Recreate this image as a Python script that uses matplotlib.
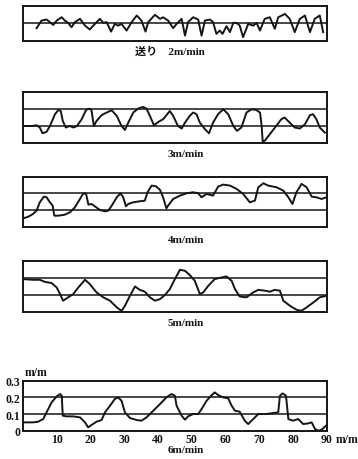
import numpy as np
import matplotlib.pyplot as plt

# 送り速度ごとの表面うねり記録 (横軸 m/m, 縦軸 m/m)
feed_labels = ['送り　2m/min', '3m/min', '4m/min', '5m/min', '6m/min']

x_2 = [4.05, 5.5, 7.0, 8.0, 9.0, 10.0, 11.5, 12.4, 13.4, 14.4, 15.4, 16.9, 18.4, 19.8,
       21.3, 22.8, 23.8, 24.8, 26.1, 27.2, 28.2, 29.2, 30.7, 32.2, 33.7, 35.1, 36.3,
       37.1, 39.1, 40.6, 41.5, 43.0, 44.5, 45.5, 47.0, 48.0, 48.9, 50.4, 51.9, 52.9,
       53.9, 55.4, 56.3, 57.3, 58.3, 59.1, 60.3, 61.3, 62.3, 63.3, 64.2, 65.2, 66.7,
       68.2, 69.2, 70.2, 71.6, 73.1, 74.6, 75.6, 77.6, 79.0, 80.5, 82.0, 83.5, 85.0,
       86.4, 87.9, 88.9]
y_2 = [0.073, 0.116, 0.122, 0.107, 0.091, 0.116, 0.135, 0.116, 0.103, 0.078, 0.107,
       0.126, 0.087, 0.065, 0.097, 0.126, 0.103, 0.107, 0.053, 0.097, 0.087, 0.097,
       0.059, 0.107, 0.145, 0.116, 0.053, 0.107, 0.149, 0.126, 0.135, 0.116, 0.073,
       0.097, 0.126, 0.030, 0.107, 0.135, 0.122, 0.030, 0.116, 0.122, 0.107, 0.040,
       0.059, 0.040, 0.084, 0.050, 0.103, 0.103, 0.087, 0.021, 0.097, 0.087, 0.103,
       0.059, 0.126, 0.135, 0.069, 0.135, 0.154, 0.126, 0.050, 0.126, 0.145, 0.050,
       0.126, 0.145, 0.050]

x_3 = [0.5, 2.6, 4.05, 5.0, 5.8, 7.0, 8.0, 9.5, 10.5, 11.2, 11.8, 12.7, 13.8, 15.0,
       16.0, 17.4, 18.7, 19.6, 20.3, 21.0, 21.8, 23.3, 24.8, 26.3, 27.8, 29.2, 30.2,
       31.2, 32.7, 34.1, 35.6, 36.6, 37.6, 38.8, 40.1, 41.5, 42.5, 43.5, 44.5, 45.9,
       47.0, 48.0, 49.4, 50.4, 51.4, 52.4, 53.9, 55.1, 56.3, 57.8, 59.3, 60.8, 62.3,
       63.4, 64.7, 66.2, 67.7, 69.1, 70.2, 70.7, 71.0, 71.6, 73.1, 75.0, 76.5, 77.5,
       79.0, 80.5, 82.0, 83.5, 85.0, 85.9, 86.9, 87.9, 89.4]
y_3 = [0.098, 0.098, 0.102, 0.089, 0.055, 0.063, 0.098, 0.168, 0.193, 0.187, 0.128,
       0.089, 0.098, 0.089, 0.098, 0.138, 0.193, 0.201, 0.193, 0.098, 0.128, 0.162,
       0.178, 0.191, 0.158, 0.098, 0.075, 0.118, 0.178, 0.201, 0.211, 0.201, 0.158,
       0.102, 0.122, 0.138, 0.162, 0.187, 0.158, 0.098, 0.083, 0.118, 0.158, 0.178,
       0.168, 0.118, 0.079, 0.055, 0.118, 0.168, 0.197, 0.168, 0.098, 0.069, 0.089,
       0.178, 0.197, 0.193, 0.178, 0.098, 0.004, 0.010, 0.049, 0.098, 0.138, 0.148,
       0.118, 0.089, 0.083, 0.108, 0.162, 0.168, 0.138, 0.089, 0.059]

x_4 = [0.1, 1.6, 3.0, 4.05, 5.0, 6.2, 7.0, 8.0, 8.8, 9.3, 10.5, 12.4, 13.9, 15.4,
       16.9, 17.9, 18.7, 19.4, 20.3, 21.3, 22.8, 24.3, 25.3, 26.3, 27.8, 28.9, 29.7,
       30.5, 31.2, 32.7, 34.6, 36.1, 36.9, 38.1, 39.4, 40.6, 41.5, 42.5, 43.0, 44.5,
       46.5, 48.5, 50.4, 51.9, 52.9, 54.4, 56.3, 57.8, 59.3, 61.3, 63.3, 65.2, 67.2,
       68.7, 69.7, 71.2, 72.6, 75.1, 77.1, 78.6, 79.8, 81.0, 82.5, 84.0, 85.5, 86.9,
       88.4, 89.9]
y_4 = [0.050, 0.060, 0.076, 0.096, 0.146, 0.180, 0.176, 0.146, 0.126, 0.066, 0.066,
       0.072, 0.086, 0.116, 0.166, 0.200, 0.196, 0.132, 0.136, 0.122, 0.100, 0.092,
       0.096, 0.126, 0.176, 0.200, 0.176, 0.122, 0.136, 0.146, 0.152, 0.156, 0.206,
       0.246, 0.242, 0.220, 0.176, 0.110, 0.126, 0.166, 0.186, 0.200, 0.206, 0.200,
       0.176, 0.196, 0.186, 0.240, 0.252, 0.246, 0.226, 0.196, 0.146, 0.156, 0.236,
       0.260, 0.246, 0.236, 0.216, 0.176, 0.136, 0.206, 0.256, 0.236, 0.180, 0.176,
       0.166, 0.176]

x_5 = [0.1, 3.0, 5.0, 6.5, 8.5, 10.0, 11.0, 11.9, 13.4, 14.9, 16.4, 18.4, 19.8, 21.8,
       23.8, 25.8, 27.8, 29.2, 30.2, 31.7, 33.2, 34.6, 36.1, 37.6, 39.1, 40.6, 42.0,
       43.5, 45.0, 46.5, 48.0, 49.4, 50.9, 52.4, 53.4, 54.9, 56.8, 58.8, 60.3, 61.8,
       62.8, 64.2, 66.2, 68.2, 69.7, 71.7, 73.1, 74.6, 76.1, 77.1, 79.1, 81.0, 82.5,
       84.0, 86.0, 87.9, 89.9]
y_5 = [0.192, 0.188, 0.188, 0.176, 0.169, 0.143, 0.104, 0.065, 0.085, 0.104, 0.143,
       0.188, 0.163, 0.114, 0.085, 0.065, 0.026, 0.005, 0.035, 0.094, 0.149, 0.129,
       0.118, 0.085, 0.065, 0.075, 0.098, 0.133, 0.192, 0.247, 0.241, 0.216, 0.182,
       0.104, 0.114, 0.153, 0.192, 0.202, 0.208, 0.182, 0.133, 0.090, 0.085, 0.114,
       0.129, 0.124, 0.118, 0.129, 0.124, 0.065, 0.035, 0.012, 0.006, 0.026, 0.055,
       0.085, 0.094]

x_6 = [0.6, 3.0, 4.5, 6.0, 7.0, 8.5, 10.0, 11.0, 11.5, 11.8, 12.9, 14.9, 16.9, 18.4,
       19.3, 20.3, 21.8, 23.3, 24.3, 25.8, 27.2, 28.2, 29.2, 30.2, 31.7, 33.7, 35.1,
       36.6, 38.6, 40.6, 42.5, 44.0, 45.0, 45.5, 47.0, 48.0, 48.9, 50.4, 51.9, 52.9,
       54.4, 55.9, 56.8, 57.8, 59.3, 60.8, 61.8, 62.8, 64.2, 65.7, 66.7, 68.2, 69.7,
       72.1, 74.1, 75.6, 76.1, 76.9, 77.9, 78.6, 80.0, 81.5, 83.0, 84.5, 85.5, 86.5,
       87.5, 88.4, 90.0]
y_6 = [0.050, 0.050, 0.054, 0.070, 0.110, 0.170, 0.206, 0.220, 0.210, 0.090, 0.086,
       0.086, 0.080, 0.050, 0.020, 0.034, 0.054, 0.064, 0.110, 0.150, 0.190, 0.200,
       0.180, 0.110, 0.076, 0.064, 0.060, 0.080, 0.120, 0.160, 0.200, 0.220, 0.210,
       0.150, 0.090, 0.066, 0.086, 0.100, 0.100, 0.130, 0.180, 0.214, 0.230, 0.214,
       0.200, 0.194, 0.150, 0.120, 0.114, 0.060, 0.040, 0.070, 0.100, 0.100, 0.106,
       0.110, 0.210, 0.224, 0.210, 0.070, 0.060, 0.070, 0.040, 0.044, 0.050, 0.010,
       0.000, 0.006, 0.034]

x_ticks = [10, 20, 30, 40, 50, 60, 70, 80, 90]
y_ticks = [0, 0.1, 0.2, 0.3]

series = [(x_2, y_2), (x_3, y_3), (x_4, y_4), (x_5, y_5), (x_6, y_6)]
y_tops = [0.2, 0.3, 0.3, 0.3, 0.3]

# left, bottom, width, height (figure fraction)
boxes = [
    [0.064, 0.909, 0.849, 0.076],
    [0.064, 0.688, 0.849, 0.110],
    [0.064, 0.505, 0.849, 0.109],
    [0.064, 0.320, 0.849, 0.111],
    [0.064, 0.0615, 0.849, 0.1087],
]
# label position (axes fraction x, offset below in points)
label_pos = [(0.484, -7.5), (0.536, -8), (0.536, -9), (0.536, -7.5), (0.536, -13.5)]

serif = ['Liberation Serif', 'Noto Sans CJK JP']
ink = '#151515'

fig = plt.figure(figsize=(3.58, 4.60), dpi=100)
fig.patch.set_facecolor('white')

for i, ((xs, ys), top, box) in enumerate(zip(series, y_tops, boxes)):
    ax = fig.add_axes(box)
    ax.plot(xs, ys, color=ink, lw=1.4, solid_joinstyle='round')
    for lv in np.arange(0.1, top - 0.05, 0.1):
        ax.axhline(lv, color=ink, lw=1.1)
    ax.set_xlim(0, 90)
    ax.set_ylim(0, top)
    for s in ax.spines.values():
        s.set_linewidth(1.4)
        s.set_color(ink)
    ax.tick_params(length=0)

    lx, ly = label_pos[i]
    ax.annotate(feed_labels[i], xy=(lx, 0), xycoords='axes fraction',
                xytext=(0, ly), textcoords='offset points',
                ha='center', va='center', fontsize=8, fontweight='bold',
                family=serif, color=ink)

    if i < 4:
        ax.set_xticks([])
        ax.set_yticks([])
    else:
        ax.set_xticks(x_ticks)
        ax.set_xticklabels([str(t) for t in x_ticks], fontsize=8.5,
                           fontweight='bold', family=serif, color=ink)
        ax.set_yticks(y_ticks)
        ax.set_yticklabels(['0', '0.1', '0.2', '0.3'], fontsize=8.5,
                           fontweight='bold', family=serif, color=ink)
        ax.tick_params(axis='x', pad=2)
        ax.tick_params(axis='y', pad=2)
        ax.annotate('m/m', xy=(0.005, 1), xycoords='axes fraction',
                    xytext=(0, 6), textcoords='offset points',
                    ha='left', va='center', fontsize=8.5, fontweight='bold',
                    family=serif, color=ink)
        ax.annotate('m/m', xy=(1.03, 0), xycoords='axes fraction',
                    xytext=(0, -6), textcoords='offset points',
                    ha='left', va='center', fontsize=8.5, fontweight='bold',
                    family=serif, color=ink, annotation_clip=False)

fig.savefig('out.png', dpi=100, facecolor='white')
